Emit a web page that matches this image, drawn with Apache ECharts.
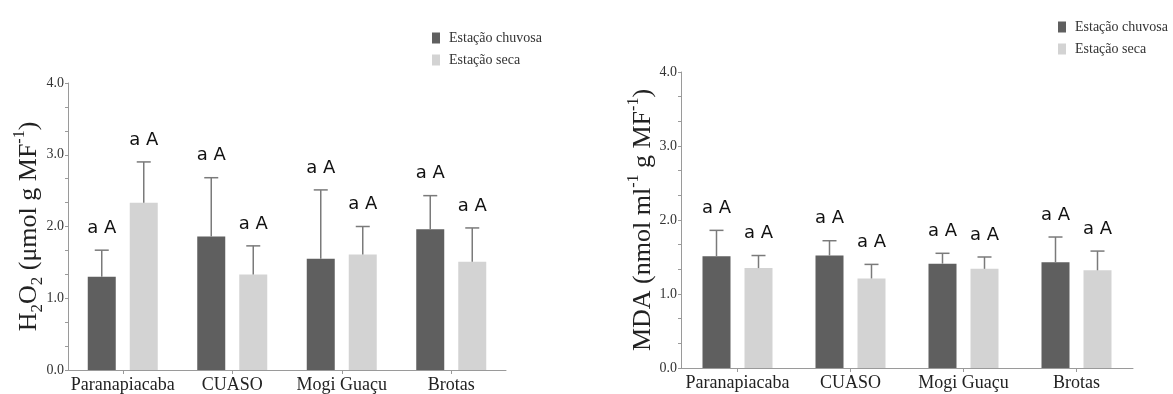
<!DOCTYPE html>
<html>
<head>
<meta charset="utf-8">
<script src="https://cdn.jsdelivr.net/npm/echarts@6/dist/echarts.min.js"></script>
<style>
html,body{margin:0;padding:0;background:#fff;}
#chart{width:1173px;height:394px;}
</style>
</head>
<body>
<div id="chart"></div>
<script>
// ---- data ----
const categories = ['Paranapiacaba', 'CUASO', 'Mogi Guaçu', 'Brotas'];
const seriesNames = ['Estação chuvosa', 'Estação seca'];
const yTicks = [0, 1, 2, 3, 4];

const h2o2Rainy = [1.30, 1.86, 1.55, 1.96];
const h2o2RainySd = [0.37, 0.82, 0.96, 0.47];
const h2o2Dry = [2.33, 1.33, 1.61, 1.51];
const h2o2DrySd = [0.57, 0.40, 0.39, 0.47];

const mdaRainy = [1.51, 1.52, 1.41, 1.43];
const mdaRainySd = [0.35, 0.20, 0.14, 0.34];
const mdaDry = [1.35, 1.21, 1.34, 1.32];
const mdaDrySd = [0.17, 0.19, 0.16, 0.26];

const h2o2RainyLetters = ['a A', 'a A', 'a A', 'a A'];
const h2o2DryLetters = ['a A', 'a A', 'a A', 'a A'];
const mdaRainyLetters = ['a A', 'a A', 'a A', 'a A'];
const mdaDryLetters = ['a A', 'a A', 'a A', 'a A'];

// ---- styles ----
const DARK = '#5f5f5f';
const LIGHT = '#d3d3d3';
const AXIS = '#9a9a9a';
const SERIF = '"Liberation Serif", "Times New Roman", serif';
const BAR_W = 28;
const OFFSET = 21;

const chart = echarts.init(document.getElementById('chart'));

function yAxis(gi, rich, name) {
  return {
    type: 'value', gridIndex: gi, min: 0, max: 4, interval: 1,
    name: name, nameLocation: 'middle', nameGap: gi === 0 ? 22 : 21,
    nameMoveOverlap: false,
    nameTextStyle: { rich: rich },
    axisLine: { show: true, lineStyle: { color: AXIS, width: 1 } },
    axisTick: { show: true, length: 3, lineStyle: { color: AXIS } },
    minorTick: { show: true, splitNumber: 3, length: 3, lineStyle: { color: AXIS } },
    splitLine: { show: false },
    axisLabel: { margin: 4, color: '#333', fontFamily: SERIF, fontSize: 14,
      formatter: v => yTicks.indexOf(v) >= 0 ? v.toFixed(1) : '' }
  };
}
function xAxis(gi) {
  return {
    type: 'category', gridIndex: gi, data: categories,
    axisLine: { show: true, lineStyle: { color: AXIS, width: 1 } },
    axisTick: { show: true, alignWithLabel: true, length: 4, lineStyle: { color: AXIS } },
    axisLabel: { margin: 6, color: '#222', fontFamily: SERIF, fontSize: 18, interval: 0 }
  };
}
const baseRich = {
  t: { fontFamily: SERIF, fontSize: 26, color: '#222', lineHeight: 34 },
  sub: { fontFamily: SERIF, fontSize: 17, color: '#222', verticalAlign: 'bottom', lineHeight: 18 },
  sup: { fontFamily: SERIF, fontSize: 16, color: '#222', verticalAlign: 'top', lineHeight: 18 }
};

function errSeries(gi, means, sds, letters, side) {
  return {
    type: 'custom', xAxisIndex: gi, yAxisIndex: gi, z: 5, clip: false,
    silent: true,
    data: categories.map((c, i) => [i, means[i], means[i] + sds[i]]),
    renderItem: function (params, api) {
      const i = api.value(0);
      const base = api.coord([i, api.value(1)]);
      const top = api.coord([i, api.value(2)]);
      const x = base[0] + side * OFFSET;
      const ls = { stroke: '#7a7a7a', lineWidth: 1.5 };
      return {
        type: 'group', children: [
          { type: 'line', shape: { x1: x, y1: base[1], x2: x, y2: top[1] }, style: ls },
          { type: 'line', shape: { x1: x - 7, y1: top[1], x2: x + 7, y2: top[1] }, style: ls },
          { type: 'text', style: { text: letters[params.dataIndex], x: x, y: top[1] - 13,
              align: 'center', verticalAlign: 'bottom', fontSize: 18,
              fontFamily: '"DejaVu Sans", Arial, sans-serif', fill: '#111' } }
        ]
      };
    }
  };
}
function barSeries(gi, name, values, color) {
  return {
    type: 'bar', name: name, xAxisIndex: gi, yAxisIndex: gi, data: values,
    barWidth: BAR_W, barGap: '50%', itemStyle: { color: color }, z: 2
  };
}
function legend(left, top) {
  return {
    data: seriesNames, orient: 'vertical', left: left, top: top,
    icon: 'rect', itemWidth: 8, itemHeight: 11, itemGap: 8,
    textStyle: { fontFamily: SERIF, fontSize: 14, color: '#333', padding: [0, 0, 0, 4] }
  };
}

chart.setOption({
  animation: false,
  backgroundColor: '#fff',
  legend: [legend(427, 26), legend(1053, 15)],
  grid: [
    { left: 68, top: 83, width: 438, height: 289 },
    { left: 681, top: 72, width: 452, height: 296 }
  ],
  xAxis: [xAxis(0), xAxis(1)],
  yAxis: [
    yAxis(0, baseRich, '{t|H}{sub|2}{t|O}{sub|2}{t| (μmol g MF}{sup|-1}{t|)}'),
    yAxis(1, baseRich, '{t|MDA (nmol ml}{sup|-1}{t| g MF}{sup|-1}{t|)}')
  ],
  series: [
    barSeries(0, seriesNames[0], h2o2Rainy, DARK),
    barSeries(0, seriesNames[1], h2o2Dry, LIGHT),
    barSeries(1, seriesNames[0], mdaRainy, DARK),
    barSeries(1, seriesNames[1], mdaDry, LIGHT),
    errSeries(0, h2o2Rainy, h2o2RainySd, h2o2RainyLetters, -1),
    errSeries(0, h2o2Dry, h2o2DrySd, h2o2DryLetters, 1),
    errSeries(1, mdaRainy, mdaRainySd, mdaRainyLetters, -1),
    errSeries(1, mdaDry, mdaDrySd, mdaDryLetters, 1)
  ]
});
</script>
</body>
</html>
